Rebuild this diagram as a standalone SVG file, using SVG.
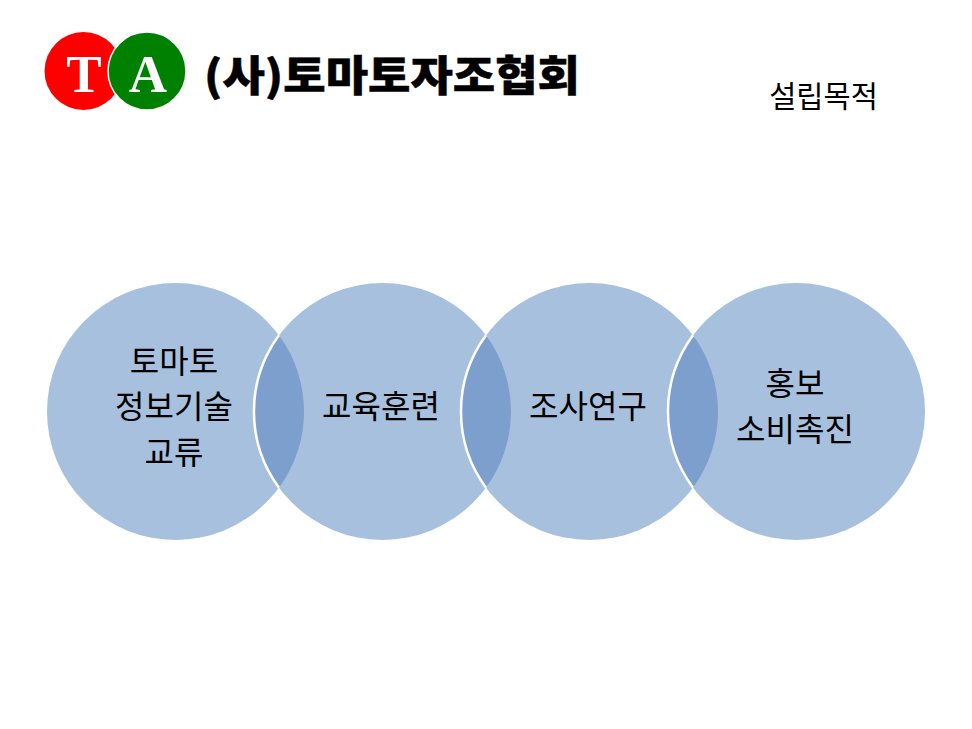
<svg xmlns="http://www.w3.org/2000/svg" width="972" height="729" viewBox="0 0 972 729">
<defs><style>
.k{font-family:"Noto Sans CJK KR","Noto Sans",sans-serif;font-size:32px;fill:#000;text-anchor:middle}
.c{fill:#a7c0de}
.o{fill:#7c9fcd}
.e{fill:none;stroke:#fff;stroke-width:2.500}
.l{font-family:"Liberation Serif",serif;font-weight:bold;font-size:53px;fill:#fff;text-anchor:middle}
</style></defs>
<rect width="972" height="729" fill="#fff"/>
<g id="logo-t"><circle cx="83.500" cy="71" r="39" fill="#ff0000"/><text class="l" x="84" y="92">T</text></g>
<g id="logo-a"><circle cx="147" cy="71" r="39" fill="#008000" stroke="#fff" stroke-width="1.500"/><text class="l" x="148" y="92">A</text></g>
<g id="title"><text x="204" y="91" font-family="Noto Sans CJK KR,sans-serif" font-weight="900" font-size="42" stroke="#000" stroke-width="0.500" textLength="376" lengthAdjust="spacingAndGlyphs">(사)토마토자조협회</text></g>
<g id="heading"><text x="823.500" y="107" text-anchor="middle" font-family="Noto Sans CJK KR,sans-serif" font-size="29.500">설립목적</text></g>
<g id="connectors"/>
<g id="circle-1"><circle class="c" cx="175.500" cy="411.500" r="128.500"/></g>
<g id="circle-2"><circle class="c" cx="382.500" cy="411.500" r="128.500"/></g>
<g id="circle-3"><circle class="c" cx="589.500" cy="411.500" r="128.500"/></g>
<g id="circle-4"><circle class="c" cx="796.500" cy="411.500" r="128.500"/></g>
<g id="overlap-1"><path class="o" d="M279 335.300A128.500 128.500 0 0 1 279 487.700A128.500 128.500 0 0 1 279 335.300Z"/><path class="e" d="M279 335.300A128.500 128.500 0 0 0 279 487.700"/></g>
<g id="overlap-2"><path class="o" d="M486 335.300A128.500 128.500 0 0 1 486 487.700A128.500 128.500 0 0 1 486 335.300Z"/><path class="e" d="M486 335.300A128.500 128.500 0 0 0 486 487.700"/></g>
<g id="overlap-3"><path class="o" d="M693 335.300A128.500 128.500 0 0 1 693 487.700A128.500 128.500 0 0 1 693 335.300Z"/><path class="e" d="M693 335.300A128.500 128.500 0 0 0 693 487.700"/></g>
<g id="label-1"><text class="k" x="174" y="373">토마토</text><text class="k" x="174" y="418">정보기술</text><text class="k" x="174" y="464">교류</text></g>
<g id="label-2"><text class="k" x="381" y="418">교육훈련</text></g>
<g id="label-3"><text class="k" x="588" y="418">조사연구</text></g>
<g id="label-4"><text class="k" x="795" y="395">홍보</text><text class="k" x="795" y="441">소비촉진</text></g>
</svg>
